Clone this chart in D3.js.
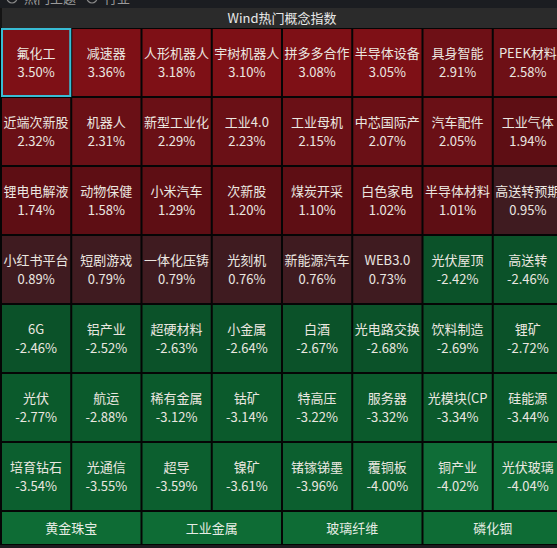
<!DOCTYPE html>
<html><head><meta charset="utf-8">
<script src="https://cdn.jsdelivr.net/npm/d3@7/dist/d3.min.js"></script>
<style>
html,body{margin:0;padding:0;background:#1b1c20;overflow:hidden;}
svg{display:block;}
text{font-family:"Noto Sans CJK SC","Microsoft YaHei",sans-serif;}
</style></head>
<body>
<svg id="chart" width="557" height="548"></svg>
<script>
const title = "Wind热门概念指数";
const topTabs = ["热门主题", "行业"];
const names = [
  "氟化工","减速器","人形机器人","宇树机器人","拼多多合作","半导体设备","具身智能","PEEK材料",
  "近端次新股","机器人","新型工业化","工业4.0","工业母机","中芯国际产","汽车配件","工业气体",
  "锂电电解液","动物保健","小米汽车","次新股","煤炭开采","白色家电","半导体材料","高送转预期",
  "小红书平台","短剧游戏","一体化压铸","光刻机","新能源汽车","WEB3.0","光伏屋顶","高送转",
  "6G","铝产业","超硬材料","小金属","白酒","光电路交换","饮料制造","锂矿",
  "光伏","航运","稀有金属","钴矿","特高压","服务器","光模块(CP","硅能源",
  "培育钻石","光通信","超导","镍矿","锗镓锑墨","覆铜板","铜产业","光伏玻璃"
];
const values = [
  3.50,3.36,3.18,3.10,3.08,3.05,2.91,2.58,
  2.32,2.31,2.29,2.23,2.15,2.07,2.05,1.94,
  1.74,1.58,1.29,1.20,1.10,1.02,1.01,0.95,
  0.89,0.79,0.79,0.76,0.76,0.73,-2.42,-2.46,
  -2.46,-2.52,-2.63,-2.64,-2.67,-2.68,-2.69,-2.72,
  -2.77,-2.88,-3.12,-3.14,-3.22,-3.32,-3.34,-3.44,
  -3.54,-3.55,-3.59,-3.61,-3.96,-4.00,-4.02,-4.04
];
const bottomTabs = ["黄金珠宝","工业金属","玻璃纤维","磷化铟"];
const selectedIndex = 0;

const nCols = 8, nRows = names.length / nCols;
const svg = d3.select("#chart");

// top strip (partially visible)
svg.append("rect").attr("x",0).attr("y",0).attr("width",557).attr("height",8).attr("fill","#1b1d21");
const tabX = d3.scalePoint().domain(topTabs).range([24, 104]);
svg.selectAll(".ttab").data(topTabs).join("text")
  .attr("x", d => tabX(d)).attr("y", 3)
  .attr("font-size", 13).attr("fill", "#9a9a9a").text(d => d);
svg.selectAll(".tcirc").data(topTabs).join("circle")
  .attr("cx", d => tabX(d) - 12).attr("cy", -2).attr("r", 5)
  .attr("fill","none").attr("stroke","#8a8a8a").attr("stroke-width",1.2);

// header bar
svg.append("rect").attr("x",2).attr("y",8).attr("width",557).attr("height",20).attr("fill","#2b2b2b");
svg.append("rect").attr("x",0).attr("y",8).attr("width",2).attr("height",540).attr("fill","#141414");
svg.append("text").attr("x",282).attr("y",18).attr("dy","0.35em")
  .attr("text-anchor","middle").attr("font-size",13).attr("fill","#e8e8e8").text(title);

// grid
const x = d3.scaleBand().domain(d3.range(nCols)).range([1, 563]).padding(0);
const y = d3.scaleBand().domain(d3.range(nRows)).range([28, 511]).padding(0);
svg.append("rect").attr("x",0).attr("y",28).attr("width",557).attr("height",517).attr("fill","#050505");

const posColor = d3.scaleThreshold().domain([1, 2, 2.5, 3])
  .range(["#3f1b20","#5e0e14","#6a1016","#6e1016","#7e1016"]);
const negColor = d3.scaleThreshold().domain([-4, -3.5, -2.75])
  .range(["#0f6d37","#0c5f2f","#0b5a2c","#0b5229"]);
const color = v => v >= 0 ? posColor(v) : negColor(v);
const fmt = v => v.toFixed(2) + "%";

const cells = svg.selectAll(".cell").data(names.map((n,i)=>({name:n, value:values[i], i})))
  .join("g").attr("class","cell")
  .attr("transform", d => `translate(${x(d.i % nCols)},${y(Math.floor(d.i / nCols))})`);
cells.append("rect")
  .attr("x", 1).attr("y", 1)
  .attr("width", x.bandwidth() - 2).attr("height", y.bandwidth() - 2)
  .attr("fill", d => color(d.value));
cells.append("text")
  .attr("x", x.bandwidth()/2).attr("y", y.bandwidth()/2 - 9.5).attr("dy","0.35em")
  .attr("text-anchor","middle").attr("font-size",13).attr("fill","#ebe7e0")
  .text(d => d.name);
cells.append("text")
  .attr("x", x.bandwidth()/2).attr("y", y.bandwidth()/2 + 9.5).attr("dy","0.35em")
  .attr("text-anchor","middle").attr("font-size",13).attr("fill","#ebe7e0")
  .text(d => fmt(d.value));

// selected highlight
svg.append("rect")
  .attr("x", x(selectedIndex % nCols) + 1).attr("y", y(Math.floor(selectedIndex / nCols)) + 1)
  .attr("width", x.bandwidth() - 2).attr("height", y.bandwidth() - 2)
  .attr("fill","none").attr("stroke","#38bcd4").attr("stroke-width",2);

// bottom tabs
const bx = d3.scaleBand().domain(bottomTabs).range([1, 563]);
const tabs = svg.selectAll(".btab").data(bottomTabs).join("g")
  .attr("transform", d => `translate(${bx(d)},511)`);
tabs.append("rect").attr("x",1).attr("y",1).attr("width",bx.bandwidth()-2).attr("height",32).attr("fill","#0e6c35");
tabs.append("text").attr("x",bx.bandwidth()/2).attr("y",17).attr("dy","0.35em")
  .attr("text-anchor","middle").attr("font-size",13).attr("fill","#e6ece4").text(d => d);
svg.append("rect").attr("x",0).attr("y",545).attr("width",557).attr("height",3).attr("fill","#1c1c1e");
</script>
</body></html>
